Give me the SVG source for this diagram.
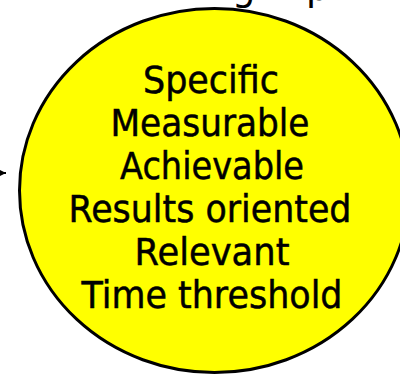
<svg xmlns="http://www.w3.org/2000/svg" width="400" height="375" viewBox="0 0 400 375">
  <style>
    .lbl { font-family: "DejaVu Sans", Verdana, sans-serif; font-size: 37px; fill: #000; stroke: #000; stroke-width: 0.5px; text-anchor: middle; }
    .head { font-family: "DejaVu Sans", Verdana, sans-serif; font-size: 37px; fill: #000; }
  </style>
  <defs>
    <marker id="arrow" markerWidth="9" markerHeight="9" refX="9" refY="4.5" orient="auto" markerUnits="userSpaceOnUse">
      <path d="M0,0 L9,4.5 L0,9 Z" fill="#000"/>
    </marker>
  </defs>
  <rect width="400" height="375" fill="#fff"/>

  <!-- heading line above the circle, mostly out of frame -->
  <g id="heading">
    <text class="head" x="232" y="0">g</text>
    <text class="head" x="306" y="0">p</text>
  </g>

  <g id="connectors">
    <line x1="-40" y1="173" x2="6" y2="173" stroke="#000" stroke-width="2" marker-end="url(#arrow)"/>
  </g>

  <g id="smart">
    <ellipse cx="214.5" cy="190.5" rx="195" ry="182" fill="#ffff00" stroke="#000" stroke-width="3"/>
    <text class="lbl" x="211" y="93" textLength="136" lengthAdjust="spacingAndGlyphs">Specific</text>
    <text class="lbl" x="210" y="136" textLength="199" lengthAdjust="spacingAndGlyphs">Measurable</text>
    <text class="lbl" x="212" y="179" textLength="184" lengthAdjust="spacingAndGlyphs">Achievable</text>
    <text class="lbl" x="210" y="222" textLength="283" lengthAdjust="spacingAndGlyphs">Results oriented</text>
    <text class="lbl" x="212" y="265" textLength="155" lengthAdjust="spacingAndGlyphs">Relevant</text>
    <text class="lbl" x="212" y="308" textLength="261" lengthAdjust="spacingAndGlyphs">Time threshold</text>
  </g>
</svg>
